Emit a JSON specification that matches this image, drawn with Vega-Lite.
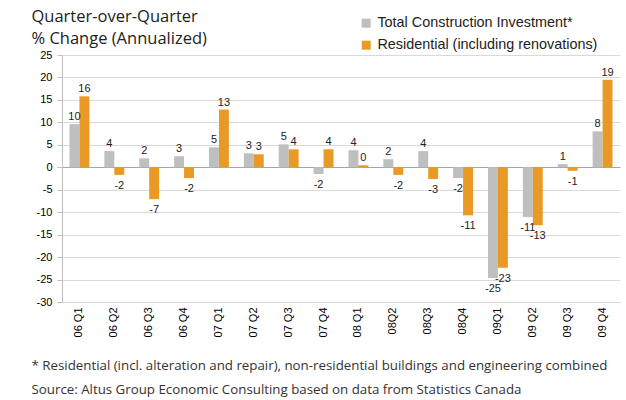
{
  "$schema": "https://vega.github.io/schema/vega-lite/v6.json",
  "width": 558,
  "height": 247,
  "autosize": {"type": "none"},
  "padding": {"left": 62, "top": 55, "right": 6, "bottom": 98},
  "background": "white",
  "config": {"view": {"stroke": null}, "font": "Liberation Sans"},
  "data": {
    "values": [
      {"q": "06 Q1", "series": "Total Construction Investment*", "value": 9.6, "label": "10"},
      {"q": "06 Q1", "series": "Residential (including renovations)", "value": 15.8, "label": "16"},
      {"q": "06 Q2", "series": "Total Construction Investment*", "value": 3.6, "label": "4"},
      {"q": "06 Q2", "series": "Residential (including renovations)", "value": -1.7, "label": "-2"},
      {"q": "06 Q3", "series": "Total Construction Investment*", "value": 2.0, "label": "2"},
      {"q": "06 Q3", "series": "Residential (including renovations)", "value": -7.1, "label": "-7"},
      {"q": "06 Q4", "series": "Total Construction Investment*", "value": 2.45, "label": "3"},
      {"q": "06 Q4", "series": "Residential (including renovations)", "value": -2.4, "label": "-2"},
      {"q": "07 Q1", "series": "Total Construction Investment*", "value": 4.45, "label": "5"},
      {"q": "07 Q1", "series": "Residential (including renovations)", "value": 12.85, "label": "13"},
      {"q": "07 Q2", "series": "Total Construction Investment*", "value": 3.1, "label": "3"},
      {"q": "07 Q2", "series": "Residential (including renovations)", "value": 2.9, "label": "3"},
      {"q": "07 Q3", "series": "Total Construction Investment*", "value": 5.1, "label": "5"},
      {"q": "07 Q3", "series": "Residential (including renovations)", "value": 4.0, "label": "4"},
      {"q": "07 Q4", "series": "Total Construction Investment*", "value": -1.5, "label": "-2"},
      {"q": "07 Q4", "series": "Residential (including renovations)", "value": 4.0, "label": "4"},
      {"q": "08 Q1", "series": "Total Construction Investment*", "value": 3.8, "label": "4"},
      {"q": "08 Q1", "series": "Residential (including renovations)", "value": 0.45, "label": "0"},
      {"q": "08Q2", "series": "Total Construction Investment*", "value": 1.8, "label": "2"},
      {"q": "08Q2", "series": "Residential (including renovations)", "value": -1.7, "label": "-2"},
      {"q": "08Q3", "series": "Total Construction Investment*", "value": 3.6, "label": "4"},
      {"q": "08Q3", "series": "Residential (including renovations)", "value": -2.6, "label": "-3"},
      {"q": "08Q4", "series": "Total Construction Investment*", "value": -2.4, "label": "-2"},
      {"q": "08Q4", "series": "Residential (including renovations)", "value": -10.7, "label": "-11"},
      {"q": "09Q1", "series": "Total Construction Investment*", "value": -24.65, "label": "-25"},
      {"q": "09Q1", "series": "Residential (including renovations)", "value": -22.4, "label": "-23"},
      {"q": "09 Q2", "series": "Total Construction Investment*", "value": -11.1, "label": "-11"},
      {"q": "09 Q2", "series": "Residential (including renovations)", "value": -12.9, "label": "-13"},
      {"q": "09 Q3", "series": "Total Construction Investment*", "value": 0.7, "label": "1"},
      {"q": "09 Q3", "series": "Residential (including renovations)", "value": -0.8, "label": "-1"},
      {"q": "09 Q4", "series": "Total Construction Investment*", "value": 8.0, "label": "8"},
      {"q": "09 Q4", "series": "Residential (including renovations)", "value": 19.5, "label": "19"}
    ]
  },
  "encoding": {
    "x": {
      "field": "q",
      "type": "nominal",
      "sort": null,
      "scale": {"paddingInner": 0.43, "paddingOuter": 0.215},
      "axis": {
        "orient": "bottom",
        "labelAngle": -90,
        "labelAlign": "right",
        "labelBaseline": "middle",
        "labelPadding": 5,
        "labelFontSize": 11,
        "labelColor": "#000",
        "ticks": false,
        "domainColor": "#d9d9d9",
        "title": [
          "* Residential (incl. alteration and repair), non-residential buildings and engineering combined",
          "Source: Altus Group Economic Consulting based on data from Statistics Canada"
        ],
        "titleFont": "Open Sans",
        "titleFontSize": 13.3,
        "titleFontWeight": "normal",
        "titleColor": "#333",
        "titleAngle": 0,
        "titleAlign": "left",
        "titleAnchor": "start",
        "titleBaseline": "alphabetic",
        "titleX": -31,
        "titleY": 67,
        "titleLineHeight": 24
      }
    },
    "xOffset": {
      "field": "series",
      "sort": ["Total Construction Investment*", "Residential (including renovations)"],
      "scale": {"paddingInner": 0, "paddingOuter": 0}
    },
    "y": {
      "field": "value",
      "type": "quantitative",
      "scale": {"domain": [-30, 25], "nice": false, "zero": false},
      "axis": {
        "values": [-30, -25, -20, -15, -10, -5, 0, 5, 10, 15, 20, 25],
        "labelExpr": "datum.value + ''",
        "labelFontSize": 11,
        "labelColor": "#000",
        "labelPadding": 5,
        "tickSize": 5,
        "tickColor": "#bfbfbf",
        "domainColor": "#bfbfbf",
        "gridColor": {"condition": {"test": "datum.value === 0", "value": "#a6a6a6"}, "value": "#d9d9d9"},
        "title": ["Quarter-over-Quarter", "% Change (Annualized)"],
        "titleFont": "Open Sans",
        "titleFontSize": 16.5,
        "titleFontWeight": "normal",
        "titleColor": "#222",
        "titleAngle": 0,
        "titleAlign": "left",
        "titleBaseline": "alphabetic",
        "titleX": -31,
        "titleY": -34,
        "titleLineHeight": 22
      }
    }
  },
  "layer": [
    {
      "mark": {"type": "bar"},
      "encoding": {
        "color": {
          "field": "series",
          "type": "nominal",
          "scale": {
            "domain": ["Total Construction Investment*", "Residential (including renovations)"],
            "range": ["#bfbfbf", "#e99a26"]
          },
          "legend": {
            "orient": "none",
            "legendX": 297,
            "legendY": -39,
            "title": null,
            "padding": 0,
            "symbolType": "square",
            "symbolSize": 81,
            "symbolStrokeWidth": 0,
            "labelFont": "Liberation Sans",
            "labelFontSize": 14.4,
            "labelColor": "#222",
            "labelLimit": 300,
            "rowPadding": 7
          }
        }
      }
    },
    {
      "transform": [{"filter": "datum.value >= 0"}],
      "mark": {"type": "text", "baseline": "alphabetic", "dy": -4, "fontSize": 11, "color": "#222"},
      "encoding": {"text": {"field": "label"}}
    },
    {
      "transform": [{"filter": "datum.value < 0"}],
      "mark": {"type": "text", "baseline": "top", "dy": 5, "fontSize": 11, "color": "#222"},
      "encoding": {"text": {"field": "label"}}
    }
  ]
}
